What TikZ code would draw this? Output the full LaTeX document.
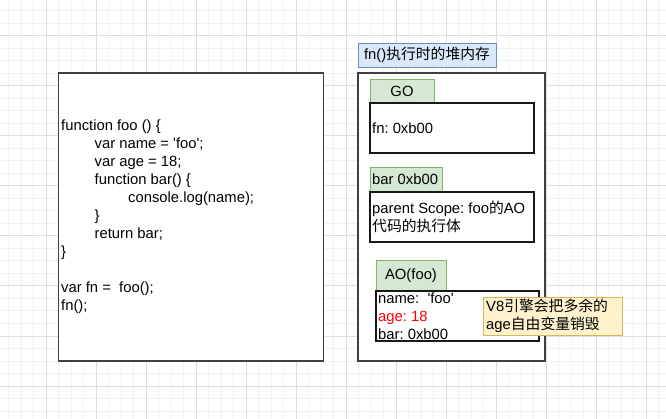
\documentclass[tikz,border=0pt]{standalone}
\usepackage{fontspec}
\setmainfont{Liberation Sans}
\newfontfamily\cjk{Noto Sans CJK SC}
\definecolor{tabfill}{HTML}{D5E8D4}
\definecolor{tabdraw}{HTML}{82B366}
\definecolor{titlefill}{HTML}{DAE8FC}
\definecolor{titledraw}{HTML}{6C8EBF}
\definecolor{notefill}{HTML}{FFF2CC}
\definecolor{notedraw}{HTML}{D6B656}
\definecolor{gridminor}{HTML}{F2F2F2}
\definecolor{gridmajor}{HTML}{DEDEDE}
\definecolor{agered}{HTML}{FF0000}
\frenchspacing
\begin{document}
\begin{tikzpicture}[x=1pt,y=-1pt,
  font=\fontsize{14.8}{18}\selectfont\frenchspacing,
  box/.style={draw, rectangle, inner sep=0pt, outer sep=0pt},
  outerbox/.style={box, draw=black!75, line width=1.8pt, fill=white},
  membox/.style={box, draw=black!90, line width=1.2pt, fill=white},
  tabbox/.style={box, draw=tabdraw, fill=tabfill, line width=0.9pt},
  titlebox/.style={box, draw=titledraw, fill=titlefill, line width=0.9pt},
  notebox/.style={box, draw=notedraw, fill=notefill, line width=0.9pt},
  txt/.style={inner sep=0pt, align=left, anchor=west},
  gminor/.style={draw=gridminor, line width=1pt},
  gmajor/.style={draw=gridmajor, line width=1pt}]
\useasboundingbox (0,0) rectangle (666,419);
\fill[white] (0,0) rectangle (666,419);
% grid
\foreach \i in {0,...,53} \draw[gminor] ({-3.7+12.5*\i},0) -- ++(0,419);
\foreach \j in {0,...,34} \draw[gminor] (0,{-1.5+12.5*\j}) -- ++(666,0);
\foreach \k in {0,...,12} \draw[gmajor] ({46.3+50*\k},0) -- ++(0,419);
\foreach \k in {0,...,7} \draw[gmajor] (0,{36+50*\k}) -- ++(666,0);

% code box
\node[outerbox, minimum width=265pt, minimum height=288pt] (code) at (191,217) {};
\node[txt] (codetxt) at (61,217) {function foo () \{\\
\hspace*{33.5pt}var name = \textquotesingle foo\textquotesingle;\\
\hspace*{33.5pt}var age = 18;\\
\hspace*{33.5pt}function bar() \{\\
\hspace*{67pt}console.log(name);\\
\hspace*{33.5pt}\}\\
\hspace*{33.5pt}return bar;\\
\}\\[18pt]
var fn = \ foo();\\
fn();};

% heap
\node[outerbox, minimum width=187pt, minimum height=288pt] (heap) at (451.5,217) {};
\node[titlebox, minimum width=138pt, minimum height=24pt] (title) at (427,55) {fn(){\cjk 执行时的堆内存}};

% GO
\node[tabbox, minimum width=64pt, minimum height=24pt] (gotab) at (402,91) {GO};
\node[membox, minimum width=164pt, minimum height=50pt] (gobox) at (452,128) {};
\node[txt] (gotxt) at (372,128) {fn: 0xb00};

% bar
\node[tabbox, minimum width=72pt, minimum height=25pt] (bartab) at (406,179.5) {};
\node[txt] (bartabtxt) at (372,179.5) {bar 0xb00};
\node[membox, minimum width=164pt, minimum height=50pt] (barbox) at (452,217) {};
\node[txt] (bartxt) at (372,217) {parent Scope: foo{\cjk 的}AO\\{\cjk 代码的执行体}};

% AO
\node[tabbox, minimum width=70pt, minimum height=31pt] (aotab) at (411,275.5) {AO(foo)};
\node[membox, minimum width=163pt, minimum height=50pt] (aobox) at (457.5,316) {};
\node[txt] (aotxt) at (378,316) {name:\ \ \textquotesingle foo\textquotesingle\\
\textcolor{agered}{age: 18}\\
bar: 0xb00};

% note
\node[notebox, minimum width=139pt, minimum height=38pt] (note) at (552.5,316) {};
\node[txt] (notetxt) at (486,316) {V8{\cjk 引擎会把多余的}\\age{\cjk 自由变量销毁}};
\end{tikzpicture}
\end{document}
